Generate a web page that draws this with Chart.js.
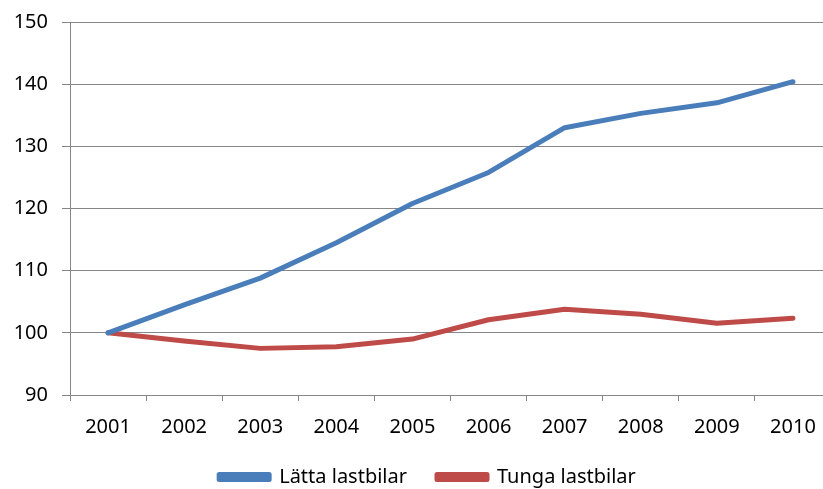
<!DOCTYPE html>
<html>
<head>
<meta charset="utf-8">
<script src="https://cdn.jsdelivr.net/npm/chart.js@4"></script>
<style>
  html, body { margin: 0; padding: 0; background: #fff; overflow: hidden; }
  /* the original plot area runs a few pixels past the right edge */
  #clip { width: 823px; height: 489px; overflow: hidden; }
  #wrap { width: 831px; height: 489px; position: relative; }
</style>
</head>
<body>
<div id="clip"><div id="wrap"><canvas id="chart"></canvas></div></div>
<script>
// data
const years = ['2001', '2002', '2003', '2004', '2005', '2006', '2007', '2008', '2009', '2010'];
const lattaLastbilar = [100, 104.5, 108.8, 114.5, 120.8, 125.8, 133.0, 135.3, 137.0, 140.4];
const tungaLastbilar = [100, 98.7, 97.5, 97.75, 99.0, 102.1, 103.8, 103.0, 101.55, 102.35];
const yMin = 90, yMax = 150, yStep = 10;

const axisGray = '#868686';
const fontFamily = '"Noto Sans", "Open Sans", sans-serif';

// nudge the legend a little to the right, like the original
const legendShift = {
    id: 'legendShift',
    afterLayout(chart) {
        const lg = chart.legend;
        if (!lg) return;
        lg.left += 12;
        lg.right += 12;
    }
};

const ctx = document.getElementById('chart').getContext('2d');
new Chart(ctx, {
    type: 'line',
    data: {
        labels: years,
        datasets: [{
            label: 'Lätta lastbilar',
            data: lattaLastbilar,
            borderColor: '#4A7EBB',
            backgroundColor: '#4A7EBB',
            borderWidth: 5,
            pointRadius: 0,
            tension: 0,
            borderCapStyle: 'round',
            borderJoinStyle: 'round'
        }, {
            label: 'Tunga lastbilar',
            data: tungaLastbilar,
            borderColor: '#BE4B48',
            backgroundColor: '#BE4B48',
            borderWidth: 5,
            pointRadius: 0,
            tension: 0,
            borderCapStyle: 'round',
            borderJoinStyle: 'round'
        }]
    },
    options: {
        responsive: true,
        maintainAspectRatio: false,
        animation: false,
        layout: {
            padding: { top: 22, right: 0, bottom: 0, left: 0 }
        },
        plugins: {
            tooltip: { enabled: false },
            legend: {
                position: 'bottom',
                maxHeight: 52,
                labels: {
                    boxWidth: 50,
                    boxHeight: 5,
                    padding: 30,
                    color: '#000',
                    font: { family: fontFamily, size: 20 }
                }
            }
        },
        scales: {
            x: {
                offset: true,
                afterFit(scale) {
                    scale.height = 42;
                    scale.paddingLeft = 0;
                    scale.paddingRight = 0;
                },
                grid: {
                    offset: true,
                    drawOnChartArea: false,
                    drawTicks: true,
                    tickLength: 6,
                    color: axisGray
                },
                border: { color: axisGray, width: 1 },
                ticks: {
                    color: '#000',
                    padding: 14,
                    maxRotation: 0,
                    font: { family: fontFamily, size: 20 }
                }
            },
            y: {
                min: yMin,
                max: yMax,
                afterFit(scale) {
                    scale.width = 70;
                    scale.paddingTop = 0;
                    scale.paddingBottom = 0;
                },
                grid: {
                    color: axisGray,
                    tickLength: 8
                },
                border: { color: axisGray, width: 1 },
                ticks: {
                    stepSize: yStep,
                    color: '#000',
                    padding: 14,
                    font: { family: fontFamily, size: 20 }
                }
            }
        }
    },
    plugins: [legendShift]
});
</script>
</body>
</html>
